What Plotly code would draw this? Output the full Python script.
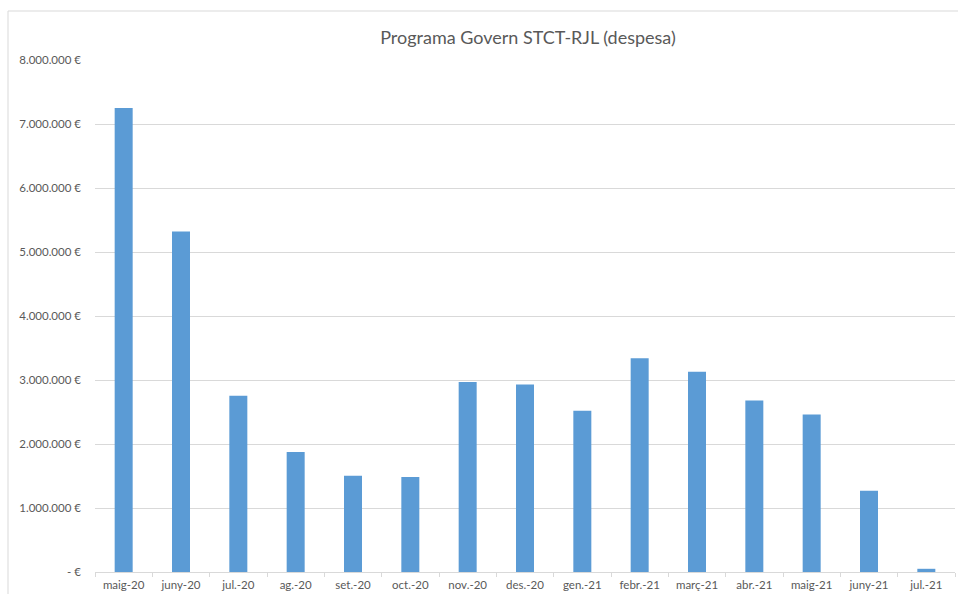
import plotly.graph_objects as go

categories = ["maig-20", "juny-20", "jul.-20", "ag.-20", "set.-20", "oct.-20", "nov.-20",
              "des.-20", "gen.-21", "febr.-21", "març-21", "abr.-21", "maig-21", "juny-21", "jul.-21"]
despesa = [7250000, 5320000, 2755000, 1875000, 1505000, 1485000, 2970000,
           2930000, 2520000, 3340000, 3130000, 2680000, 2460000, 1270000, 50000]

tick_vals = [0, 1000000, 2000000, 3000000, 4000000, 5000000, 6000000, 7000000, 8000000]
tick_text = ["- €", "1.000.000 €", "2.000.000 €", "3.000.000 €", "4.000.000 €",
             "5.000.000 €", "6.000.000 €", "7.000.000 €", "8.000.000 €"]

FONT = "Lato, 'Open Sans', sans-serif"
W, H = 958, 594
L, R, T, B = 95, 3, 60, 22
pw, ph = W - L - R, H - T - B

fig = go.Figure(go.Bar(x=categories, y=despesa, marker=dict(color="#5b9bd5", line=dict(width=0)),
                       hoverinfo="x+y"))

def px_x(p):
    return (p - L) / pw

def px_y(p):
    return (H - B - p) / ph

fig.update_layout(
    width=W, height=H,
    margin=dict(l=L, r=R, t=T, b=B),
    paper_bgcolor="white", plot_bgcolor="white",
    bargap=0.686,
    showlegend=False,
    font=dict(family=FONT, color="#595959", size=11),
    title=dict(text="Programa Govern STCT-RJL (despesa)", x=528 / W, xanchor="center",
               y=1 - 38 / H, yanchor="middle", yref="container", xref="container",
               font=dict(size=18, color="#595959", family=FONT)),
    xaxis=dict(showgrid=False, showline=True, linecolor="#d9d9d9", linewidth=1,
               ticks="outside", tickson="boundaries", ticklen=4, tickcolor="#d9d9d9",
               tickfont=dict(size=11.5, color="#595959"), ticklabelstandoff=2,
               fixedrange=True),
    yaxis=dict(range=[0, 8000000], tickvals=tick_vals, ticktext=tick_text,
               showgrid=True, gridcolor="#d9d9d9", gridwidth=1, zeroline=False,
               showline=False, ticks="", ticklabelstandoff=13,
               tickfont=dict(size=11.5, color="#595959")),
    shapes=[dict(type="rect", xref="paper", yref="paper",
                 x0=px_x(8), x1=px_x(960), y0=px_y(598), y1=px_y(11),
                 line=dict(color="#d9d9d9", width=1), fillcolor="rgba(0,0,0,0)", layer="below")],
)

fig.write_html("out.html", config={"displayModeBar": False},
               post_script="document.body.style.margin='0';document.body.style.overflow='hidden';")
